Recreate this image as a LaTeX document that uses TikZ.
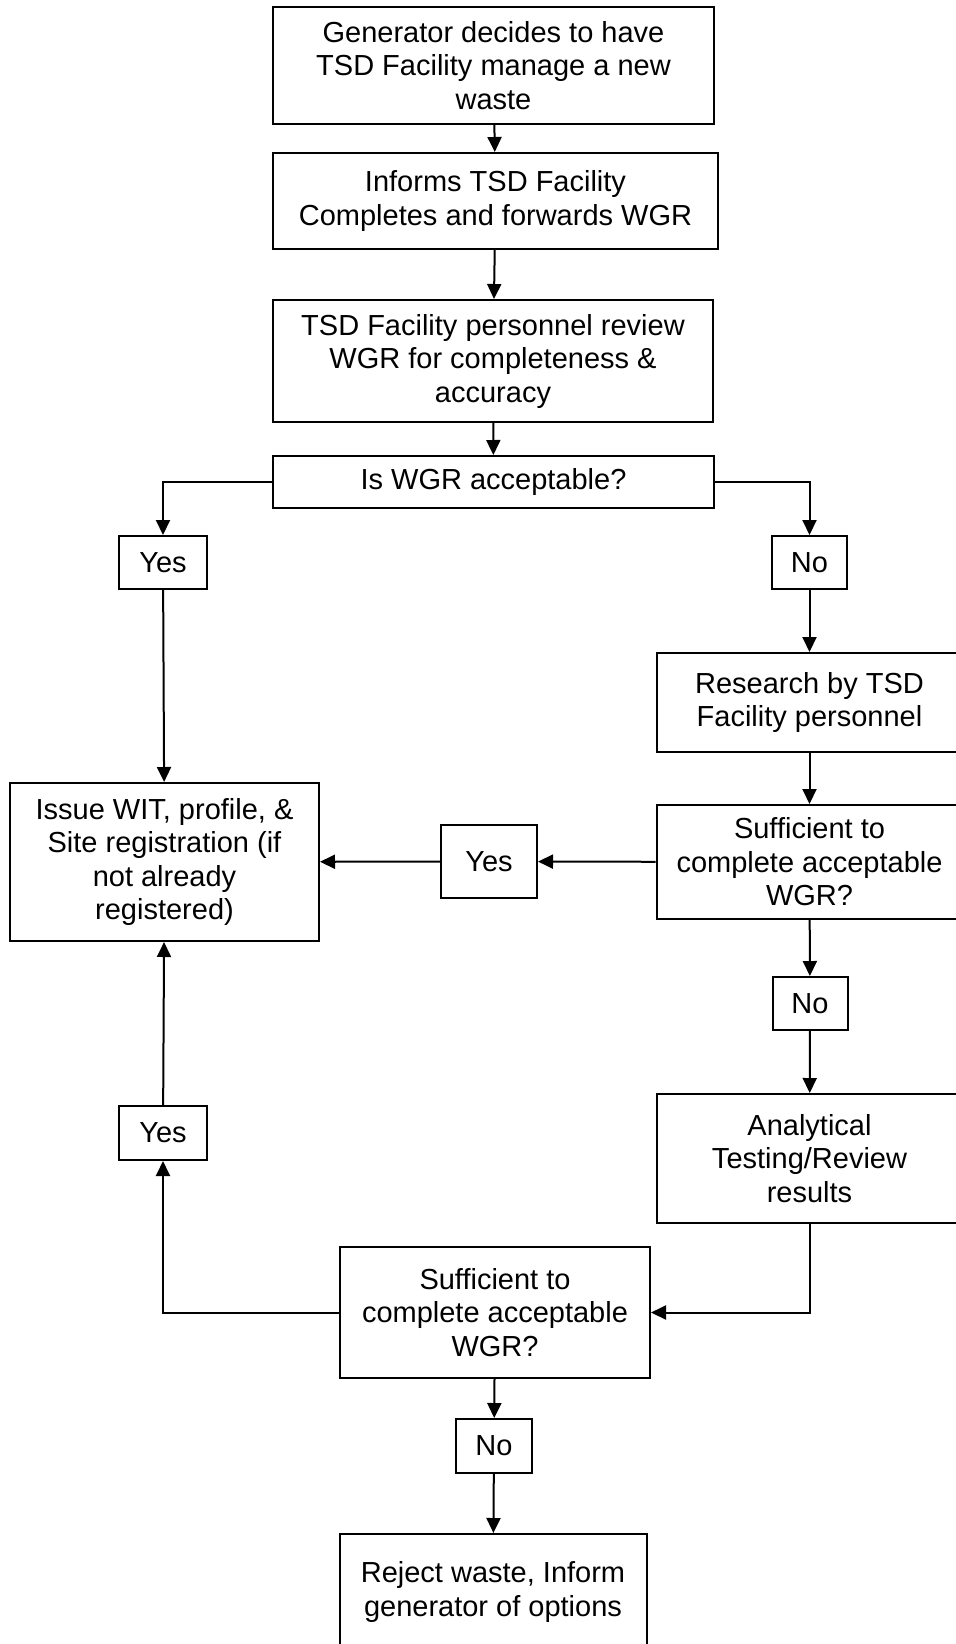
\documentclass[tikz,border=0pt]{standalone}
\usepackage{fontspec}
\setmainfont{Liberation Sans}
\usepackage{tikz}
\usetikzlibrary{arrows.meta,positioning}

\begin{document}
\begin{tikzpicture}[
  x=0.5pt,y=-0.5pt,
  box/.style={draw,line width=1pt,inner sep=0pt,align=center,
              font=\fontsize{14.5}{16.75}\selectfont},
  lbl/.style={draw,line width=1pt,inner sep=0pt,minimum height=26.5pt,
              font=\fontsize{14.5}{16.75}\selectfont},
  arr/.style={-{Triangle[length=7.5pt,width=7pt]},line width=1pt}
]
\useasboundingbox (0,0) rectangle (956,1644);
\clip (0,0) rectangle (956,1644);
\node[box,minimum width=220.5pt,minimum height=58.5pt] (gen) at (493.5,65.5)
  {Generator decides to have\\TSD Facility manage a new\\waste};
\node[box,minimum width=222.5pt,minimum height=48pt] (inform) at (495.5,201)
  {Informs TSD Facility\\Completes and forwards WGR};
\node[box,minimum width=220pt,minimum height=61pt] (review) at (493,361)
  {TSD Facility personnel review\\WGR for completeness \&\\accuracy};
\node[box,minimum width=220.5pt,minimum height=26pt] (accept) at (493.5,482)
  {Is WGR acceptable?};
\node[lbl,minimum width=44pt] (yesa) at (163,562.5) {Yes};
\node[lbl,minimum width=37.5pt] (noa) at (809.5,562.5) {No};
\node[box,minimum width=153pt,minimum height=49.5pt] (research) at (809.5,702.5)
  {Research by TSD\\Facility personnel};
\node[box,minimum width=154.5pt,minimum height=79pt] (issue) at (164.5,862)
  {Issue WIT, profile, \&\\Site registration (if\\not already\\registered)};
\node[lbl,minimum width=48pt,minimum height=36.5pt] (yesb) at (489,861.5) {Yes};
\node[box,minimum width=153pt,minimum height=57pt] (suffa) at (809.5,862)
  {Sufficient to\\complete acceptable\\WGR?};
\node[lbl,minimum width=37.5pt] (nob) at (810,1003.5) {No};
\node[box,minimum width=153pt,minimum height=64.5pt] (test) at (809.5,1158.5)
  {Analytical\\Testing/Review\\results};
\node[lbl,minimum width=44pt,minimum height=27pt] (yesc) at (163,1133) {Yes};
\node[box,minimum width=155pt,minimum height=65.5pt] (suffb) at (495,1312.5)
  {Sufficient to\\complete acceptable\\WGR?};
\node[lbl,minimum width=38pt,minimum height=27pt] (noc) at (494,1446) {No};
\node[box,minimum width=153.5pt,minimum height=58pt] (reject) at (493,1592)
  {Reject waste, Inform\\generator of options};

\draw[arr] (gen) -- (inform);
\draw[arr] (inform) -- (review);
\draw[arr] (review) -- (accept);
\draw[arr] (accept.west) -| (yesa.north);
\draw[arr] (accept.east) -| (noa.north);
\draw[arr] (yesa) -- (issue);
\draw[arr] (noa) -- (research);
\draw[arr] (research) -- (suffa);
\draw[arr] (suffa) -- (yesb);
\draw[arr] (yesb) -- (issue);
\draw[arr] (suffa) -- (nob);
\draw[arr] (nob) -- (test);
\draw[arr] (test.south) |- (suffb.east);
\draw[arr] (suffb.west) -| (yesc.south);
\draw[arr] (yesc) -- (issue);
\draw[arr] (suffb) -- (noc);
\draw[arr] (noc) -- (reject);
\end{tikzpicture}
\end{document}
